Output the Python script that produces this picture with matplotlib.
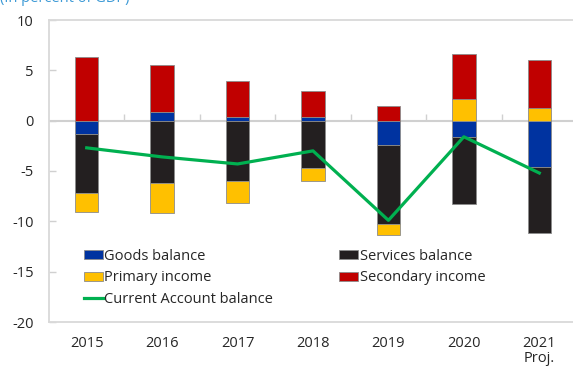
import matplotlib
matplotlib.use("Agg")
import matplotlib.pyplot as plt
import numpy as np
from matplotlib.patches import Patch
from matplotlib.lines import Line2D

plt.rcParams['font.family'] = ['Open Sans', 'DejaVu Sans']
plt.rcParams['axes.unicode_minus'] = False

years = ["2015", "2016", "2017", "2018", "2019", "2020", "2021\nProj."]
goods = [-1.3, 0.9, 0.4, 0.4, -2.4, -1.6, -4.6]
services = [-5.9, -6.2, -6.0, -4.7, -7.9, -6.7, -6.6]
primary = [-1.9, -3.0, -2.2, -1.3, -1.1, 2.2, 1.3]
secondary = [6.3, 4.6, 3.5, 2.5, 1.5, 4.4, 4.7]
current_account = [-2.7, -3.6, -4.3, -3.0, -9.9, -1.6, -5.2]

series = [
    ("Goods balance", goods, "#0033a0"),
    ("Services balance", services, "#231f20"),
    ("Primary income", primary, "#ffc000"),
    ("Secondary income", secondary, "#c00000"),
]

fig = plt.figure(figsize=(5.73, 3.69), dpi=100)
ax = fig.add_axes([49 / 573, 47 / 369, 528 / 573, 302 / 369])

x = np.arange(len(years))
pos_base = np.zeros(len(years))
neg_base = np.zeros(len(years))
for name, vals, color in series:
    vals = np.array(vals, dtype=float)
    base = np.where(vals >= 0, pos_base, neg_base)
    ax.bar(x, vals, width=0.31, bottom=base, color=color,
           edgecolor="#8c8c8c", linewidth=0.6, zorder=3)
    pos_base = pos_base + np.clip(vals, 0, None)
    neg_base = neg_base + np.clip(vals, None, 0)

ax.plot(x, current_account, color="#00b050", linewidth=2.3, zorder=4)

# zero line with small upward ticks between categories
ax.axhline(0, color="#d0d0d0", linewidth=1.5, zorder=2)
ax.plot(x[:-1] + 0.5, np.zeros(len(x) - 1), ls="none", marker=2,
        markersize=5, markeredgewidth=1.0, color="#d0d0d0", zorder=2)

ax.set_xlim(-0.5, len(years) - 0.5)
ax.set_ylim(-20, 10)
ax.set_yticks(np.arange(-20, 11, 5))
ax.set_xticks(x)
ax.set_xticklabels(years, linespacing=1.05)

for s in ax.spines.values():
    s.set_color("#d9d9d9")
    s.set_linewidth(1.3)

ax.tick_params(axis="y", direction="in", length=5, width=1.0,
               color="#d0d0d0", labelsize=10.5, labelcolor="#262626", pad=11)
ax.tick_params(axis="x", length=0, labelsize=10.5, labelcolor="#262626", pad=10)

handles = [
    Patch(facecolor="#0033a0", edgecolor="#8c8c8c", linewidth=0.6),
    Patch(facecolor="#ffc000", edgecolor="#8c8c8c", linewidth=0.6),
    Line2D([0], [0], color="#00b050", linewidth=2.3),
    Patch(facecolor="#231f20", edgecolor="#8c8c8c", linewidth=0.6),
    Patch(facecolor="#c00000", edgecolor="#8c8c8c", linewidth=0.6),
]
labels = ["Goods balance", "Primary income", "Current Account balance",
          "Services balance", "Secondary income"]
leg = ax.legend(handles, labels, ncol=2, loc="lower left",
                bbox_to_anchor=(0.066, 0.05), frameon=False,
                fontsize=10.5, handlelength=1.3, handleheight=0.55,
                handletextpad=0.1, columnspacing=4.55, labelspacing=0.45,
                borderaxespad=0, borderpad=0)
for t in leg.get_texts():
    t.set_color("#262626")

fig.text(0.0, 1 - 2.5 / 369, "(In percent of GDP)", color="#3d9ad6",
         fontsize=10.5, ha="left", va="baseline")

fig.savefig("out.png", dpi=100)
